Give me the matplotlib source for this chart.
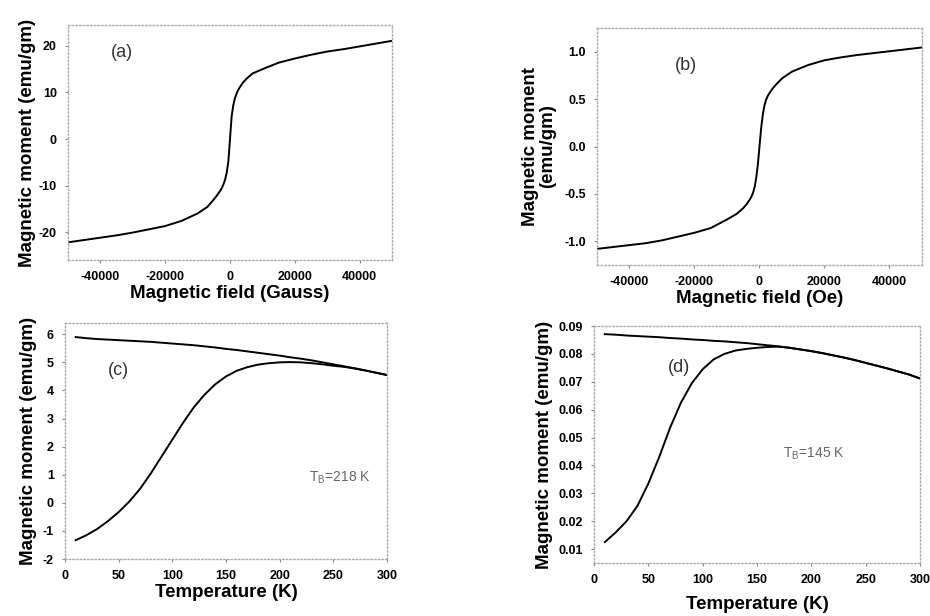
import matplotlib
matplotlib.use('Agg')
from matplotlib import rcParams, pyplot as plt

rcParams.update({'font.family': ['Liberation Sans', 'DejaVu Sans'], 'mathtext.default': 'regular',
                 'axes.unicode_minus': False})

# (a) M vs H, Gauss
field_a = [-50000, -45000, -40000, -35000, -30000, -25000, -20000, -15000, -10000, -7000, -5000, -4000,
           -3000, -2500, -2000, -1500, -1000, -500, 0, 500, 1000, 1500, 2000, 2500, 3000, 4000, 5000,
           7000, 10000, 15000, 20000, 25000, 30000, 35000, 40000, 45000, 50000]
moment_a = [-22.2, -21.7, -21.2, -20.7, -20.1, -19.4, -18.7, -17.6, -16.0, -14.6, -13.0, -12.1,
            -11.1, -10.5, -9.7, -8.7, -7.2, -4.8, 0.0, 4.8, 7.2, 8.7, 9.7, 10.5, 11.1, 12.1, 12.9,
            14.1, 15.0, 16.4, 17.3, 18.1, 18.8, 19.3, 19.9, 20.5, 21.1]

# (b) M vs H, Oe
field_b = [-50000, -45000, -40000, -35000, -30000, -25000, -20000, -15000, -10000, -7000, -5000, -4000,
           -3000, -2500, -2000, -1500, -1000, -500, 0, 500, 1000, 1500, 2000, 2500, 3000, 4000, 5000,
           7000, 10000, 15000, 20000, 25000, 30000, 35000, 40000, 45000, 50000]
moment_b = [-1.08, -1.06, -1.04, -1.02, -0.99, -0.95, -0.91, -0.86, -0.77, -0.71, -0.65, -0.61,
            -0.56, -0.53, -0.49, -0.43, -0.33, -0.19, 0.0, 0.19, 0.33, 0.43, 0.49, 0.53, 0.56, 0.61, 0.65,
            0.72, 0.79, 0.86, 0.91, 0.94, 0.965, 0.985, 1.005, 1.025, 1.045]

# (c) ZFC / FC
temp_c = [10, 20, 30, 40, 50, 60, 70, 80, 90, 100, 110, 120, 130, 140, 150, 160, 170, 180, 190, 200,
          210, 220, 230, 240, 250, 260, 270, 280, 290, 300]
zfc_c = [-1.33, -1.15, -0.93, -0.65, -0.33, 0.05, 0.50, 1.05, 1.65, 2.25, 2.85, 3.40, 3.85, 4.22, 4.50,
         4.70, 4.83, 4.92, 4.97, 5.00, 5.01, 5.00, 4.97, 4.93, 4.88, 4.84, 4.78, 4.71, 4.63, 4.55]
fc_c = [5.90, 5.86, 5.83, 5.81, 5.79, 5.77, 5.75, 5.73, 5.70, 5.67, 5.64, 5.61, 5.57, 5.53, 5.48,
        5.44, 5.39, 5.34, 5.29, 5.24, 5.18, 5.13, 5.07, 5.00, 4.93, 4.86, 4.79, 4.71, 4.63, 4.55]
tb_c = '$T_B$=218 K'

# (d) ZFC / FC
temp_d = [10, 20, 30, 40, 50, 60, 70, 80, 90, 100, 110, 120, 130, 140, 150, 160, 170, 180, 190, 200,
          210, 220, 230, 240, 250, 260, 270, 280, 290, 300]
zfc_d = [0.0125, 0.0160, 0.0200, 0.0255, 0.0335, 0.0430, 0.0535, 0.0625, 0.0695, 0.0745, 0.0780,
         0.0800, 0.0812, 0.0818, 0.0822, 0.0825, 0.0826, 0.0822, 0.0816, 0.0810, 0.0803, 0.0795,
         0.0787, 0.0778, 0.0768, 0.0758, 0.0748, 0.0737, 0.0726, 0.0712]
fc_d = [0.0871, 0.0869, 0.0866, 0.0864, 0.0862, 0.0860, 0.0857, 0.0855, 0.0852, 0.0850, 0.0847,
        0.0845, 0.0842, 0.0839, 0.0835, 0.0831, 0.0827, 0.0822, 0.0816, 0.0810, 0.0803, 0.0795,
        0.0787, 0.0778, 0.0768, 0.0758, 0.0748, 0.0737, 0.0726, 0.0712]
tb_d = '$T_B$=145 K'

fig = plt.figure(figsize=(9.3, 6.16), dpi=100)


def style(ax):
    for s in ax.spines.values():
        s.set_color('#aaaaaa')
        s.set_linestyle(':')
        s.set_linewidth(1.0)
    ax.tick_params(length=2, width=0.8, color='#888888', labelsize=9, pad=6)
    for lab in ax.get_xticklabels() + ax.get_yticklabels():
        lab.set_fontweight('bold')


lab_kw = dict(fontsize=13.5, fontweight='bold')

# (a)
ax = fig.add_axes([0.0731, 0.5779, 0.3484, 0.3815])
ax.plot(field_a, moment_a, color='black', lw=1.4)
ax.set_xlim(-50000, 50000)
ax.set_ylim(-26, 24.5)
ax.set_xticks([-40000, -20000, 0, 20000, 40000])
ax.set_yticks([-20, -10, 0, 10, 20])
ax.set_xlabel('Magnetic field (Gauss)', labelpad=1, **lab_kw)
ax.set_ylabel('Magnetic moment (emu/gm)', labelpad=2, **lab_kw)
ax.text(-33500, 18.7, '(a)', fontsize=13, ha='center', va='center', color='#333333')
style(ax)

# (b)
ax = fig.add_axes([0.6419, 0.5698, 0.3495, 0.3847])
ax.plot(field_b, moment_b, color='black', lw=1.4)
ax.set_xlim(-50000, 50000)
ax.set_ylim(-1.25, 1.25)
ax.set_xticks([-40000, -20000, 0, 20000, 40000])
ax.set_yticks([-1.0, -0.5, 0.0, 0.5, 1.0])
ax.set_yticklabels(['-1.0', '-0.5', '0.0', '0.5', '1.0'])
ax.set_xlabel('Magnetic field (Oe)', labelpad=1, **lab_kw)
ax.set_ylabel('Magnetic moment\n(emu/gm)', labelpad=6, linespacing=1.0, **lab_kw)
ax.text(-22500, 0.85, '(b)', fontsize=13, ha='center', va='center', color='#333333')
style(ax)

# (c)
ax = fig.add_axes([0.0699, 0.0925, 0.3462, 0.3831])
ax.plot(temp_c, fc_c, color='black', lw=1.4)
ax.plot(temp_c, zfc_c, color='black', lw=1.4)
ax.set_xlim(0, 300)
ax.set_ylim(-2, 6.4)
ax.set_xticks([0, 50, 100, 150, 200, 250, 300])
ax.set_yticks([-2, -1, 0, 1, 2, 3, 4, 5, 6])
ax.set_xlabel('Temperature (K)', labelpad=1, **lab_kw)
ax.set_ylabel('Magnetic moment (emu/gm)', labelpad=4, **lab_kw)
ax.text(50, 4.7, '(c)', fontsize=13, ha='center', va='center', color='#333333')
ax.text(256, 0.9, tb_c, fontsize=10, ha='center', va='center', color='#666666')
style(ax)

# (d)
ax = fig.add_axes([0.6387, 0.0860, 0.3505, 0.3847])
ax.plot(temp_d, fc_d, color='black', lw=1.4)
ax.plot(temp_d, zfc_d, color='black', lw=1.4)
ax.set_xlim(0, 300)
ax.set_ylim(0.005, 0.09)
ax.set_xticks([0, 50, 100, 150, 200, 250, 300])
ax.set_yticks([0.01, 0.02, 0.03, 0.04, 0.05, 0.06, 0.07, 0.08, 0.09])
ax.set_xlabel('Temperature (K)', labelpad=7, **lab_kw)
ax.set_ylabel('Magnetic moment (emu/gm)', labelpad=4, **lab_kw)
ax.text(78, 0.0753, '(d)', fontsize=13, ha='center', va='center', color='#333333')
ax.text(202, 0.0443, tb_d, fontsize=10, ha='center', va='center', color='#666666')
style(ax)

plt.savefig('out.png', dpi=100)
